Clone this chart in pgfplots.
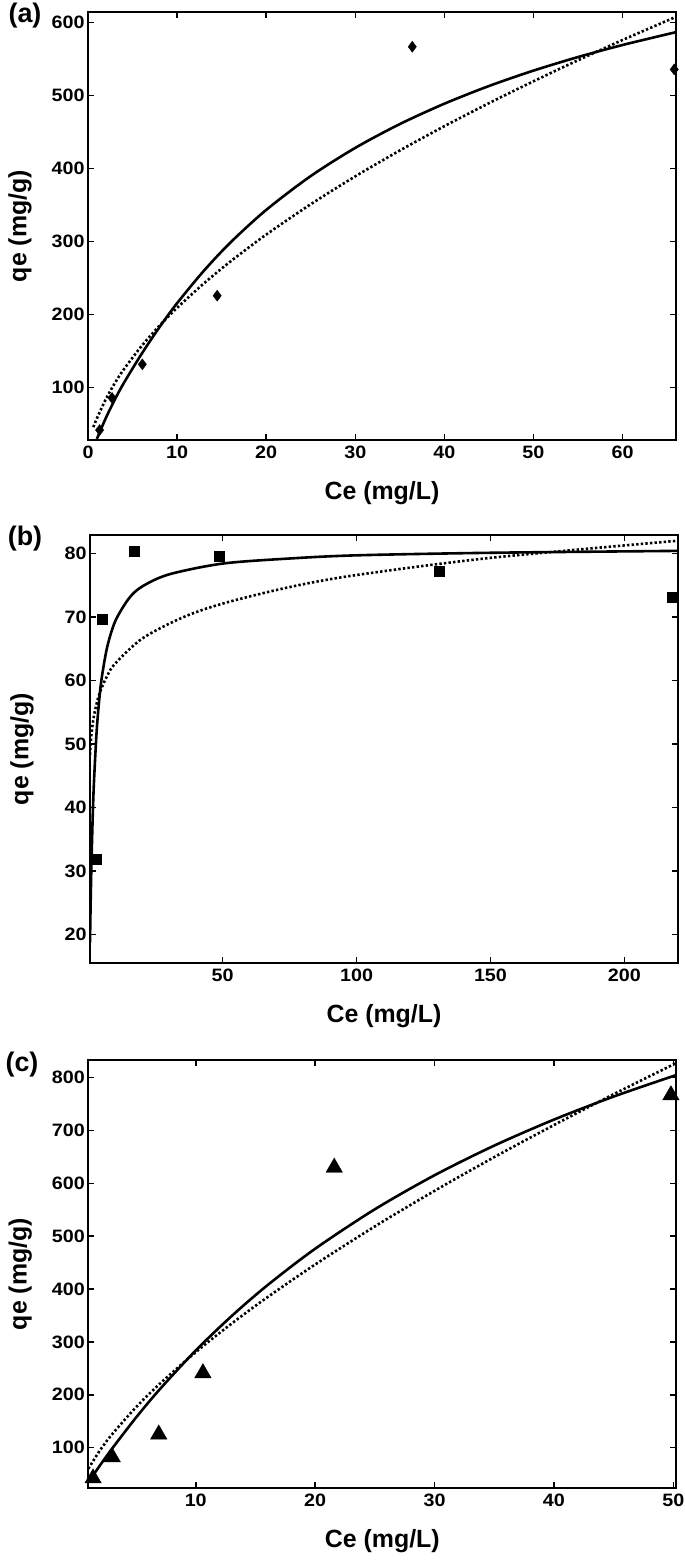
\documentclass[border=0pt]{standalone}
\usepackage{fontspec}
\setmainfont{Liberation Sans}
\newfontfamily\tickfont[FakeStretch=1.1]{Liberation Sans}
\usepackage{pgfplots}
\pgfplotsset{compat=1.18}
\pgfplotsset{myax/.style={
  scale only axis, width=588bp, height=428bp, anchor=north west,
  axis line style={line width=1.7bp},
  every tick/.style={line width=1.5bp, black},
  major tick length=6bp,
  tick align=inside, xtick pos=both, ytick pos=both,
  xticklabel pos=bottom, yticklabel pos=left,
  /pgf/number format/assume math mode=true,
  ticklabel style={font=\fontsize{18}{21}\tickfont\bfseries},
  xticklabel style={yshift=-2bp},
  yticklabel style={xshift=0bp},
  label style={font=\fontsize{25}{29}\selectfont\bfseries},
  xlabel={Ce (mg/L)}, ylabel={qe (mg/g)},
  xlabel style={at={(axis description cs:0.5,-0.124)}, anchor=center},
  ylabel style={at={(axis description cs:-0.1156,0.5)}, anchor=center},
  clip marker paths=false,
}}
\pgfplotsset{
  fitsolid/.style={black, line width=2.6bp, no markers, smooth},
  fitdot/.style={black, line width=2.6bp, dash pattern=on 2.4bp off 2.2bp, no markers, smooth},
}
\begin{document}
\begin{tikzpicture}
\useasboundingbox (0,0) rectangle (685bp,-1561bp);
% (a)
\begin{axis}[myax, at={(88bp,-12bp)},
  xmin=0, xmax=66, ymin=28.4, ymax=614.6,
  xtick={0,10,20,30,40,50,60}, ytick={100,200,300,400,500,600}]
\addplot[fitsolid] coordinates {(1,30)(2,58.5)(3,83.5)(4,106)(6,146)(8,182.5)(10,215.8)(13,260.1)(16,299.0)(20,343.5)(25,389.9)(30,428.5)(35,461.1)(40,489.0)(45,513.2)(50,534.3)(55,552.9)(60,569.4)(66,587.0)};
\addplot[fitdot] coordinates {(0.6,46)(1,58)(2,84.3)(3,106.0)(4,124.8)(6,156.9)(8,184.6)(10,209.4)(13,242.8)(16,273.0)(20,309.7)(25,351.3)(30,389.5)(35,424.9)(40,458.2)(45,489.7)(50,519.7)(55,548.5)(60,576.2)(66,608.0)};
\addplot[only marks, mark=diamond*, mark size=5.5bp, black] coordinates {(1.3,42)(2.7,86)(6.1,132)(14.5,226)(36.4,567)(65.8,536)};
\end{axis}
\node[font=\fontsize{27}{31}\selectfont\bfseries] at (25bp,-16bp) {(a)};
% (b)
\begin{axis}[myax, at={(90bp,-535bp)},
  xmin=0.5, xmax=220, ymin=15.5, ymax=82.9,
  xtick={50,100,150,200}, ytick={20,30,40,50,60,70,80}]
\addplot[fitsolid] coordinates {(0.5,18.7)(0.7,24.0)(1,30.4)(1.5,38.4)(2,44.2)(3,52.1)(4,57.2)(5,60.75)(7,65.4)(10,69.4)(15,72.9)(20,74.8)(30,76.7)(50,78.4)(75,79.2)(100,79.7)(150,80.1)(220,80.4)};
\addplot[fitdot] coordinates {(0.5,48.3)(1,51.3)(2,54.5)(4,57.9)(7,60.8)(10,62.7)(20,66.6)(35,69.9)(50,72.1)(75,74.7)(100,76.6)(150,79.3)(220,82.0)};
\addplot[only marks, mark=square*, mark size=5bp, black] coordinates {(2.7,31.9)(5,69.7)(16.9,80.4)(48.6,79.5)(131,77.2)(218,73.1)};
\end{axis}
\node[font=\fontsize{27}{31}\selectfont\bfseries] at (25bp,-539bp) {(b)};
% (c)
\begin{axis}[myax, at={(88.3bp,-1060bp)},
  xmin=1, xmax=50.25, ymin=23.5, ymax=833.5,
  xtick={10,20,30,40,50}, ytick={100,200,300,400,500,600,700,800}]
\addplot[fitsolid] coordinates {(1,34.3)(2,67.0)(3,98.3)(5,156.9)(7,210.7)(10,283.8)(13,348.8)(16,407.2)(20,476.3)(25,551.0)(30,615.4)(35,671.5)(40,720.7)(45,764.3)(50.25,805.1)};
\addplot[fitdot] coordinates {(1,60)(2,95.5)(3,125.3)(5,176.4)(7,221.0)(10,280.6)(13,334.6)(16,384.5)(20,446.5)(25,518.6)(30,585.9)(35,649.7)(40,710.4)(45,768.8)(50.25,827.8)};
\addplot[only marks, mark=triangle*, mark size=9.5bp, black] coordinates {(1.4,42)(3.0,82)(6.9,125)(10.6,241)(21.6,630)(49.8,767)};
\end{axis}
\node[font=\fontsize{27}{31}\selectfont\bfseries] at (22bp,-1065bp) {(c)};
\end{tikzpicture}
\end{document}
